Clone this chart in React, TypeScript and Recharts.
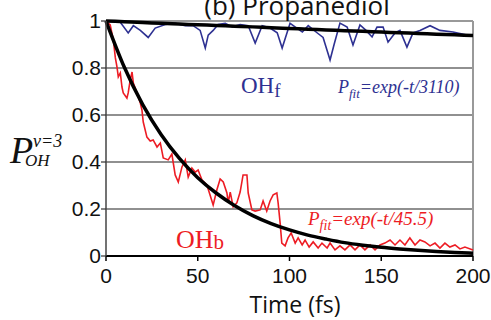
import { LineChart, Line, XAxis, YAxis, ReferenceLine } from "recharts";

// [time (fs), population]
const bonded: [number, number][] = [
    [0, 1.0], [2.3, 0.983], [4, 0.919], [5.1, 0.843], [6, 0.804], [6.7, 0.762], [7.8, 0.779],
    [8.7, 0.719], [9.4, 0.694], [11.4, 0.672], [12.1, 0.694], [13.2, 0.749], [14.2, 0.783],
    [14.9, 0.736], [16.9, 0.694], [17.6, 0.677], [18.7, 0.651], [19.6, 0.621], [20.3, 0.57],
    [22.3, 0.506], [24.1, 0.489], [25.7, 0.494], [27.8, 0.464], [29.6, 0.481], [31.2, 0.417],
    [33.9, 0.409], [35.9, 0.434], [37.7, 0.345], [39.4, 0.315], [41.4, 0.379], [43.2, 0.409],
    [44.8, 0.336], [46.8, 0.374], [48.6, 0.357], [50.2, 0.366], [52.3, 0.323], [55, 0.302],
    [58.4, 0.217], [60.4, 0.281], [62.2, 0.328], [63.9, 0.315], [65.9, 0.268], [66.6, 0.226],
    [67.7, 0.272], [69.3, 0.209], [71.3, 0.226], [73.1, 0.272], [74.7, 0.345], [76.8, 0.345],
    [77.5, 0.268], [79.5, 0.196], [81.3, 0.191], [84, 0.196], [85.6, 0.234], [87.6, 0.191],
    [89.4, 0.234], [91.1, 0.26], [93.1, 0.268], [93.8, 0.226], [94.9, 0.14], [95.8, 0.055],
    [97.6, 0.043], [99.2, 0.077], [100.9, 0.098], [103.1, 0.055], [104.7, 0.077], [106.9, 0.047],
    [108.5, 0.068], [110.7, 0.038], [112.9, 0.06], [115.6, 0.034], [117.7, 0.055], [120.5, 0.034],
    [122.1, 0.055], [124.8, 0.026], [127.5, 0.043], [130.2, 0.026], [133, 0.047], [135.7, 0.026],
    [138.4, 0.047], [141.1, 0.026], [143.9, 0.047], [146.6, 0.026], [149.3, 0.047], [152, 0.055],
    [154.8, 0.068], [157.5, 0.047], [160.2, 0.068], [162.9, 0.047], [165.6, 0.077], [168.4, 0.047],
    [171.1, 0.068], [173.8, 0.06], [176.6, 0.043], [179.3, 0.055], [182, 0.034], [184.7, 0.055],
    [187.4, 0.038], [190.2, 0.047], [192.9, 0.03], [195.6, 0.038], [200, 0.026],
];

const free: [number, number][] = [
    [0, 1.0], [7.8, 0.995], [12.1, 0.949], [14.9, 0.98], [18.7, 0.96], [23, 0.93], [26.8, 0.97],
    [32.3, 0.985], [37.7, 0.99], [43.2, 0.98], [47.5, 0.98], [51.3, 0.96], [54.1, 0.885],
    [55.7, 0.94], [58.4, 0.96], [61.1, 0.985], [65, 0.99], [68.8, 0.975], [73.1, 0.985],
    [77.5, 0.98], [81.3, 0.906], [85.1, 0.98], [89.4, 0.97], [93.3, 0.95], [96, 0.885],
    [100.3, 0.99], [107, 0.953], [110.2, 0.98], [115, 0.95], [118.3, 0.93], [122.1, 0.834],
    [124.3, 0.9], [127.5, 0.991], [131.4, 0.974], [134.6, 0.898], [138.4, 0.983], [141.7, 0.96],
    [145, 0.932], [147.7, 0.974], [151, 0.974], [153.7, 0.91], [157.5, 0.949], [160.2, 0.96],
    [164, 0.889], [167.3, 0.949], [171.1, 0.96], [176.6, 0.98], [182, 0.96], [189.1, 0.953],
    [196.7, 0.94], [200, 0.94],
];

const fitTime = [0, 10, 20, 30, 40, 50, 60, 70, 80, 90, 100, 110, 120, 130, 140, 150, 160, 170, 180, 190, 200];
const fitBonded = [1, 0.803, 0.644, 0.517, 0.415, 0.333, 0.268, 0.215, 0.172, 0.138, 0.111, 0.089, 0.072, 0.057, 0.046, 0.037, 0.03, 0.024, 0.019, 0.015, 0.012];
const fitFree = [1, 0.997, 0.994, 0.99, 0.987, 0.984, 0.981, 0.978, 0.975, 0.971, 0.968, 0.965, 0.962, 0.959, 0.956, 0.953, 0.95, 0.947, 0.944, 0.941, 0.938];

const xTicks = [0, 50, 100, 150, 200];
const yTicks = [0, 0.2, 0.4, 0.6, 0.8, 1];
const gridLevels = [0.2, 0.4, 0.6, 0.8];

const RED = "#ed1c24";
const BLUE = "#2e3192";

const toRows = (pts: [number, number][]) => pts.map(([t, p]) => ({ t, p }));
const bondedData = toRows(bonded);
const freeData = toRows(free);
const fitBondedData = fitTime.map((t, i) => ({ t, p: fitBonded[i] }));
const fitFreeData = fitTime.map((t, i) => ({ t, p: fitFree[i] }));

const tickFont = { fontFamily: "Liberation Sans, Arial, sans-serif", fontSize: 21, fill: "#111" };

export default function App() {
    return (
        <div style={{ position: "absolute", left: 0, top: 0, width: 491, height: 320, background: "#fff" }}>
            <LineChart width={491} height={320} margin={{ top: 21, right: 18, bottom: 34, left: 46 }}>
                {gridLevels.map((v) => (
                    <ReferenceLine key={v} y={v} stroke="#222" strokeWidth={1.2} />
                ))}
                <ReferenceLine y={1} stroke="#999" strokeWidth={2} />
                <ReferenceLine x={200} stroke="#999" strokeWidth={2} />
                <XAxis
                    type="number"
                    dataKey="t"
                    domain={[0, 200]}
                    ticks={xTicks}
                    height={30}
                    tickSize={5}
                    tickMargin={7}
                    tick={tickFont}
                    axisLine={{ stroke: "#000", strokeWidth: 2 }}
                    tickLine={{ stroke: "#000", strokeWidth: 1.5 }}
                    allowDuplicatedCategory={false}
                />
                <YAxis
                    type="number"
                    dataKey="p"
                    domain={[0, 1]}
                    ticks={yTicks}
                    width={60}
                    tickSize={5}
                    tickMargin={0}
                    tick={tickFont}
                    axisLine={{ stroke: "#444", strokeWidth: 1.5 }}
                    tickLine={{ stroke: "#333", strokeWidth: 1.2 }}
                />
                <Line data={freeData} dataKey="p" type="linear" stroke={BLUE} strokeWidth={1.6} dot={false} isAnimationActive={false} />
                <Line data={bondedData} dataKey="p" type="linear" stroke={RED} strokeWidth={1.6} dot={false} isAnimationActive={false} />
                <Line data={fitFreeData} dataKey="p" type="monotone" stroke="#000" strokeWidth={3.5} dot={false} isAnimationActive={false} />
                <Line data={fitBondedData} dataKey="p" type="monotone" stroke="#000" strokeWidth={3.5} dot={false} isAnimationActive={false} />
            </LineChart>
            <svg width={491} height={320} style={{ position: "absolute", left: 0, top: 0, pointerEvents: "none" }}>
                <text x={297} y={15} textAnchor="middle" fontFamily="Open Sans, sans-serif" fontSize={26} fill="#111">
                    (b) Propanediol
                </text>
                <text x={295} y={313} textAnchor="middle" fontFamily="Open Sans, sans-serif" fontSize={23} fill="#111">
                    Time (fs)
                </text>
                <g fontFamily="Liberation Serif, Times New Roman, serif" fontStyle="italic" fill="#111">
                    <text x={10} y={163} fontSize={38}>P</text>
                    <text x={33} y={147} fontSize={18}>v=3</text>
                    <text x={25} y={166} fontSize={17}>OH</text>
                </g>
                <text x={241} y={93} fontFamily="Liberation Serif, Times New Roman, serif" fontSize={23} fill={BLUE}>
                    OH<tspan fontSize={19} dy={4}>f</tspan>
                </text>
                <text x={338} y={93} fontFamily="Liberation Serif, Times New Roman, serif" fontStyle="italic" fontSize={18} fill={BLUE}>
                    P<tspan fontSize={13} dy={5}>fit</tspan><tspan dy={-5}>=exp(-t/3110)</tspan>
                </text>
                <text x={176} y={248} fontFamily="Liberation Serif, Times New Roman, serif" fontSize={26} fill={RED}>
                    OH<tspan fontSize={21} dy={1}>b</tspan>
                </text>
                <text x={308} y={225} fontFamily="Liberation Serif, Times New Roman, serif" fontStyle="italic" fontSize={19} fill={RED}>
                    P<tspan fontSize={14} dy={5}>fit</tspan><tspan dy={-5}>=exp(-t/45.5)</tspan>
                </text>
            </svg>
        </div>
    );
}
